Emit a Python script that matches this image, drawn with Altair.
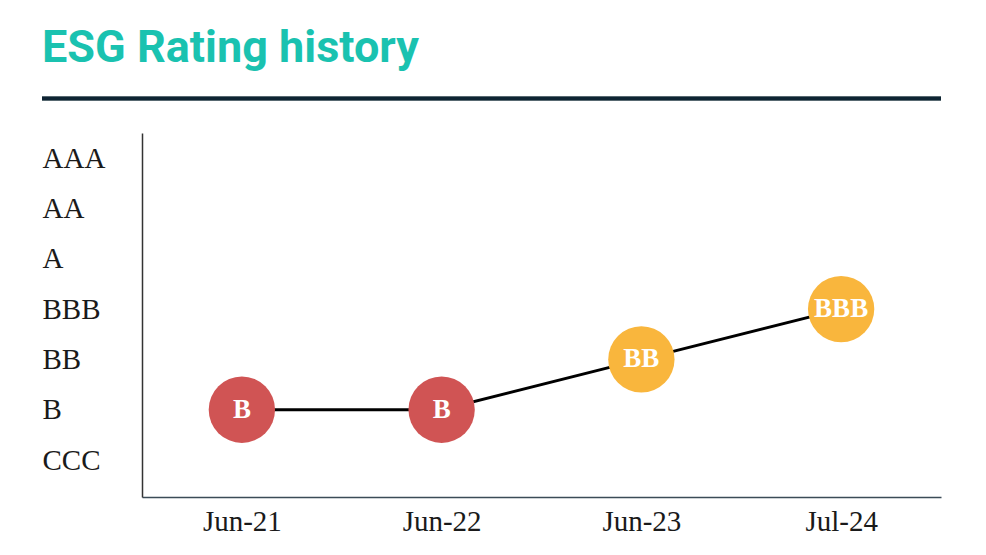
import altair as alt
import pandas as pd

# ---- data ----
dates = ["Jun-21", "Jun-22", "Jun-23", "Jul-24"]
ratings = ["B", "B", "BB", "BBB"]
scale_names = ["CCC", "B", "BB", "BBB", "A", "AA", "AAA"]  # low -> high
color_domain = ["B", "BB", "BBB"]
color_range = ["#d05454", "#f9b63d", "#f9b63d"]
title_text = "ESG Rating history"

rank = {name: i + 1 for i, name in enumerate(scale_names)}
df = pd.DataFrame({
    "date": dates,
    "rating": ratings,
    "score": [rank[r] for r in ratings],
})

label_expr = "[" + ",".join(["''"] + [f"'{n}'" for n in scale_names]) + "][datum.value]"

W, H = 799, 364

x_enc = alt.X("date:N", sort=dates,
              scale=alt.Scale(type="point", padding=0.5),
              axis=alt.Axis(title=None, labelAngle=0, ticks=False, domainColor="#3b4b57",
                            domainWidth=1.5, labelFont="Liberation Serif", labelFontSize=29,
                            labelColor="#1a1a1a", labelPadding=10, grid=False))
y_enc = alt.Y("score:Q",
              scale=alt.Scale(domain=[0.265, 7.5], nice=False, zero=False),
              axis=alt.Axis(title=None, values=list(range(1, 8)), labelExpr=label_expr,
                            ticks=False, domainColor="#333333", domainWidth=1.5,
                            labelAlign="left", labelBaseline="middle", labelPadding=100,
                            labelFont="Liberation Serif", labelFontSize=29,
                            labelColor="#1a1a1a", grid=False))

base = alt.Chart(df).encode(x=x_enc, y=y_enc)

line = base.mark_line(color="#000000", strokeWidth=3)
dots = base.mark_circle(size=4400, opacity=1).encode(
    color=alt.Color("rating:N", scale=alt.Scale(domain=color_domain, range=color_range), legend=None)
)
labels = base.mark_text(color="white", font="Liberation Serif", fontSize=27,
                        fontWeight="bold", baseline="middle", align="center").encode(text="rating:N")

rule = alt.Chart(df).mark_rule(color="#0e2433", strokeWidth=3.5).encode(
    x=alt.value(-100), x2=alt.value(W), y=alt.value(-34.5)
)

title = alt.Chart(pd.DataFrame({"t": [title_text]})).mark_text(
    font="Roboto", fontSize=45, fontWeight="bold", color="#1ac2b0",
    align="left", baseline="alphabetic"
).encode(text="t:N", x=alt.value(-100), y=alt.value(-71))

chart = alt.layer(rule, line, dots, labels, title).properties(
    width=W, height=H,
    background="white",
    autosize=alt.AutoSizeParams(type="none"),
    padding={"left": 134, "top": 125, "right": 37, "bottom": 50},
).configure_view(stroke="transparent", strokeWidth=0)

chart.save("out.html", embed_options={"renderer": "svg", "actions": False})
